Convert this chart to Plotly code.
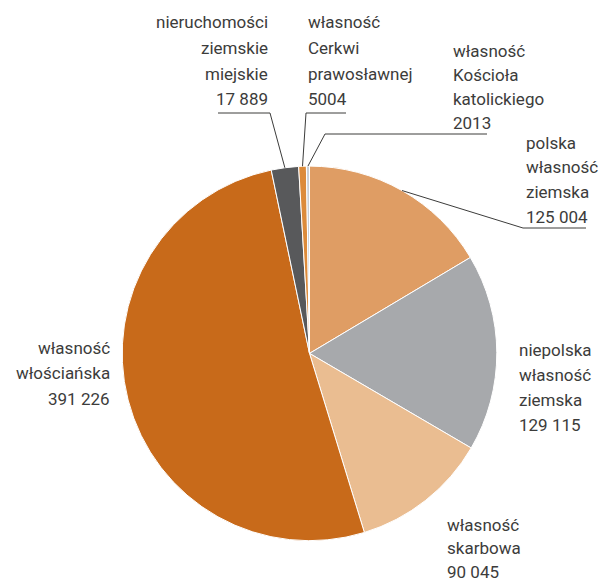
import math
import plotly.graph_objects as go

# ---- data ----
categories = [
    "polska własność ziemska",
    "niepolska własność ziemska",
    "własność skarbowa",
    "własność włościańska",
    "nieruchomości ziemskie miejskie",
    "własność Cerkwi prawosławnej",
    "własność Kościoła katolickiego",
]
values = [125004, 129115, 90045, 391226, 17889, 5004, 2013]
name_lines = [
    ["polska", "własność", "ziemska"],
    ["niepolska", "własność", "ziemska"],
    ["własność", "skarbowa"],
    ["własność", "włościańska"],
    ["nieruchomości", "ziemskie", "miejskie"],
    ["własność", "Cerkwi", "prawosławnej"],
    ["własność", "Kościoła", "katolickiego"],
]
colors = ["#DF9D64", "#A7A9AC", "#EABD91", "#C86A1A", "#58595B", "#DC8B3B", "#C9D0D8"]

# ---- layout (pixels) ----
W, H = 599, 582
CX, CY, R = 309.5, 353.4, 187.3
FONT = "Roboto"
FS = 17
TXT = "#3C3C3B"

# label blocks: x, xanchor, first baseline, line step
label_pos = [
    (524, "left", 148, 24.8),
    (517, "left", 355, 25.0),
    (445, "left", 530, 23.5),
    (112, "right", 353, 25.5),
    (270, "right", 28, 25.5),
    (306, "left", 28, 25.5),
    (451, "left", 56, 24.2),
]
# leader lines: elbow point and end point (pixels), None = no leader
leaders = [
    ((523, 228), (586, 228)),
    None,
    None,
    None,
    ((270, 113), (218, 113)),
    ((306, 113), (346, 113)),
    ((325, 134), (487, 134)),
]


def fmt(v):
    if v >= 10000:
        return f"{v:,}".replace(",", " ")
    return str(v)


def px(x):
    return x / W


def py(y):
    return 1 - y / H


fig = go.Figure(
    go.Pie(
        labels=categories,
        values=values,
        sort=False,
        direction="clockwise",
        rotation=0,
        marker=dict(colors=colors, line=dict(color="white", width=1)),
        textinfo="none",
        hoverinfo="label+value",
        domain=dict(x=[px(CX - R), px(CX + R)], y=[py(CY + R), py(CY - R)]),
        showlegend=False,
    )
)

annotations = []
shapes = []
total = sum(values)
cum = 0
for i, v in enumerate(values):
    mid = (cum + v / 2) / total
    cum += v
    theta = 2 * math.pi * mid
    sx = CX + R * math.sin(theta)
    sy = CY - R * math.cos(theta)

    lines = name_lines[i] + [fmt(v)]
    x, anchor, b0, step = label_pos[i]
    for k, t in enumerate(lines):
        base = b0 + k * step
        annotations.append(
            dict(
                x=px(x), y=py(base - 5.5), xref="paper", yref="paper",
                text=t, showarrow=False, xanchor=anchor, yanchor="middle",
                font=dict(family=FONT, size=FS, color=TXT),
            )
        )
    if leaders[i] is not None:
        (ex, ey), (tx, ty) = leaders[i]
        path = f"M {px(sx)},{py(sy)} L {px(ex)},{py(ey)} L {px(tx)},{py(ty)}"
        shapes.append(
            dict(type="path", xref="paper", yref="paper", path=path,
                 line=dict(color=TXT, width=1), layer="above")
        )

fig.update_layout(
    width=W, height=H, autosize=False,
    margin=dict(l=0, r=0, t=0, b=0),
    paper_bgcolor="white", plot_bgcolor="white",
    annotations=annotations, shapes=shapes,
)

fig.write_html(
    "out.html",
    config={"displayModeBar": False},
    post_script="document.body.style.margin='0';document.body.style.overflow='hidden';",
)
